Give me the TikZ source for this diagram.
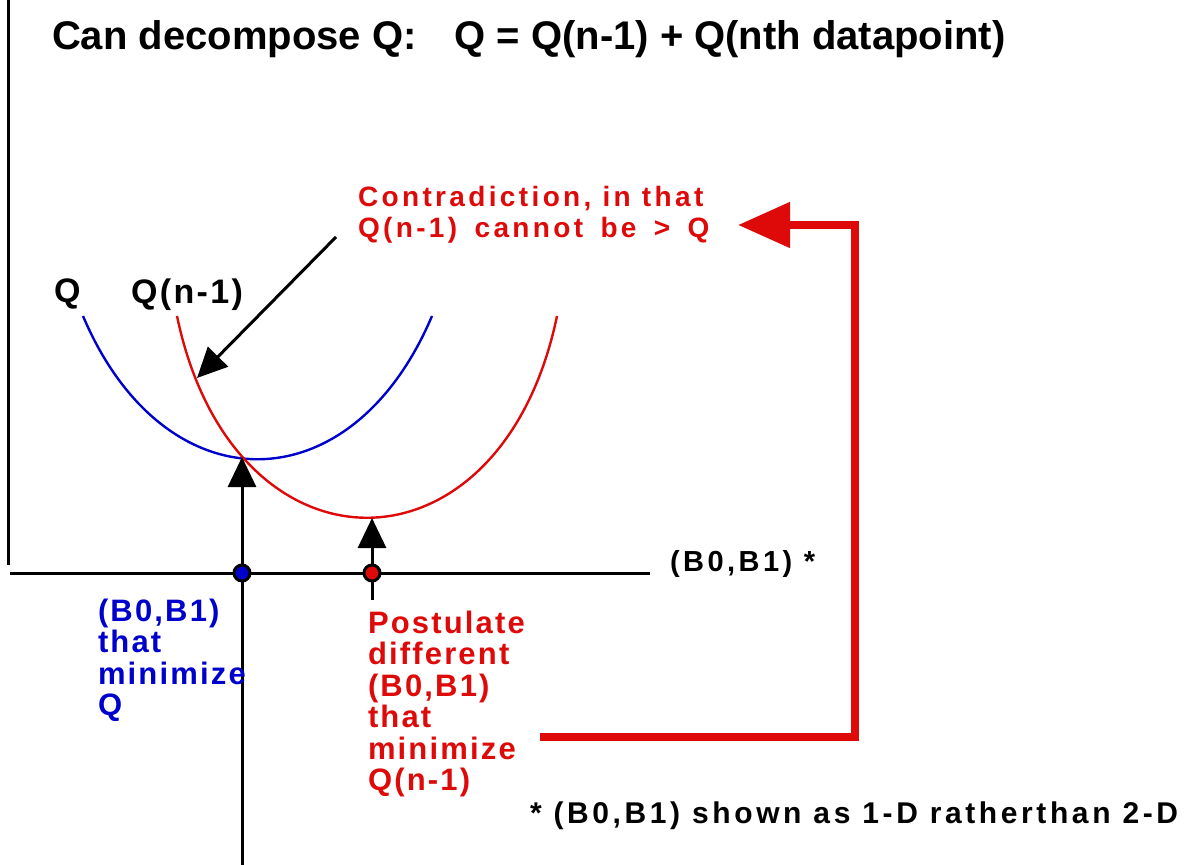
\documentclass[tikz,border=0pt]{standalone}
\usepackage{fontspec}
\setmainfont{Liberation Sans}
\newfontfamily\spcfont[LetterSpace=12]{Liberation Sans}
\newfontfamily\spcfontb[LetterSpace=7]{Liberation Sans}
\usetikzlibrary{arrows.meta}
\definecolor{myred}{RGB}{222,10,10}
\definecolor{myblue}{RGB}{0,0,205}
\newcommand{\wsp}{\hspace{0.62em}}
\tikzset{
  lbl/.style={inner sep=0pt, outer sep=0pt, anchor=north west, align=left},
  lblfont/.style={font=\spcfontb\bfseries\fontsize{15.5pt}{15.75pt}\selectfont},
  axisline/.style={line width=1.5pt, black},
  curveline/.style={line width=1.2pt},
  smallarrow/.style={line width=1.5pt, black, -{Triangle[length=15pt,width=14pt]}},
  bigredarrow/.style={line width=4pt, myred, line join=miter, -{Triangle[length=26pt,width=22pt]}},
  dotnode/.style={circle, draw=black, line width=1.5pt, minimum size=8pt, inner sep=0pt}
}
\begin{document}
\begin{tikzpicture}[x=0.5pt,y=-0.5pt]
\useasboundingbox (0,0) rectangle (1192,865);
\clip (0,0) rectangle (1192,865);
% title
\node[lbl, font=\bfseries\fontsize{20pt}{21pt}\selectfont] (title) at (52,21)
  {Can decompose Q:\hspace{0.95em}Q = Q(n-1) + Q(nth datapoint)};
% axes
\coordinate (vtop) at (8,0);
\coordinate (vbot) at (8,565);
\draw[axisline] (vtop) -- (vbot);
\coordinate (hl) at (10,573);
\coordinate (hr) at (650,573);
\draw[axisline] (hl) -- (hr);
% curves
\draw[myblue, curveline] (83,316) .. controls (164,507) and (351,507) .. (432,316);
\draw[myred, curveline] (177,316) .. controls (233,585) and (501,585) .. (557,316);
% curve labels
\node[lbl, font=\spcfontb\bfseries\fontsize{17pt}{18pt}\selectfont] (qlab) at (54,279) {Q};
\node[lbl, font=\spcfontb\bfseries\fontsize{17pt}{18pt}\selectfont] (qn1lab) at (131,279) {Q(n-1)};
% contradiction text
\node[lbl, text=myred, font=\spcfont\bfseries\fontsize{14pt}{15.5pt}\selectfont] (contra) at (358,186)
  {Contradiction, in that\\Q(n-1)\wsp cannot\wsp be\wsp >\wsp Q};
\coordinate (cstart) at (336,237);
\coordinate (ctip) at (197,378);
\draw[smallarrow] (cstart) -- (ctip);
% vertical arrows
\coordinate (bmin) at (242,457);
\coordinate (bbot) at (242,865);
\coordinate (rmin) at (372,518);
\coordinate (rbot) at (372,600);
\draw[smallarrow] (bbot) -- (bmin);
\draw[smallarrow] (rbot) -- (rmin);
% dots
\node[dotnode, fill=myblue] (bdot) at (242,573) {};
\node[dotnode, fill=myred] (rdot) at (372,573) {};
% axis label
\node[lbl, font=\spcfont\bfseries\fontsize{14.5pt}{15pt}\selectfont] (axlab) at (670,550) {(B0,B1) *};
% blue label
\node[lbl, lblfont, text=myblue] (bluelab) at (98,599) {(B0,B1)\\that\\minimize\\Q};
% red label
\node[lbl, lblfont, text=myred] (redlab) at (368,611) {Postulate\\different\\(B0,B1)\\that\\minimize\\Q(n-1)};
% red feedback connector
\coordinate (fstart) at (540,737);
\coordinate (fcorner) at (855,225);
\coordinate (ftip) at (738,225);
\draw[bigredarrow] (fstart) -| (fcorner) -- (ftip);
% footnote
\node[lbl, font=\spcfont\bfseries\fontsize{15pt}{16pt}\selectfont] (foot) at (530,802)
  {* (B0,B1) shown as 1-D ratherthan 2-D};
\end{tikzpicture}
\end{document}
